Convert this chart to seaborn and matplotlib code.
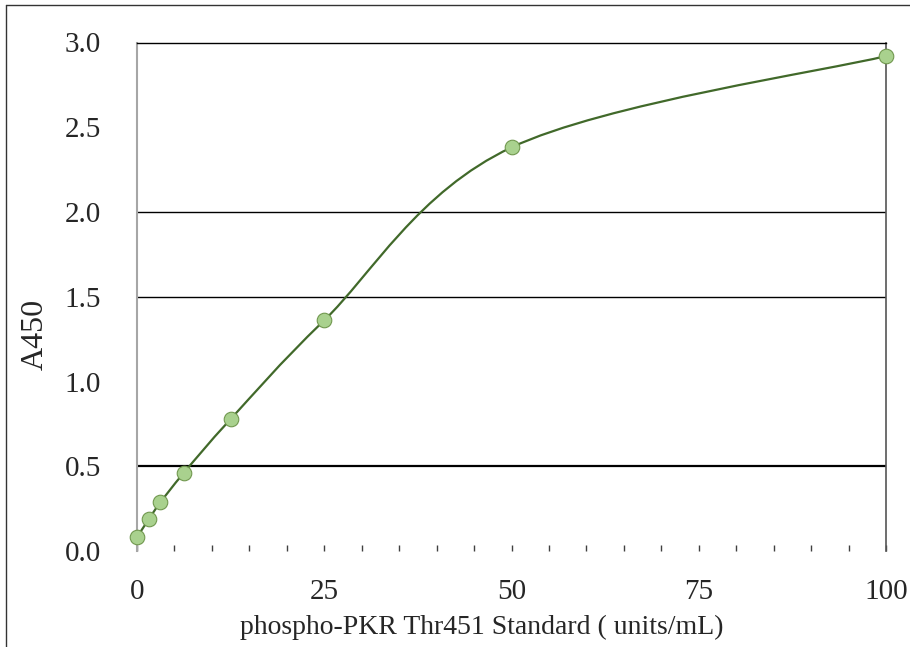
import matplotlib
matplotlib.use("Agg")
import matplotlib.pyplot as plt
import seaborn as sns
import numpy as np
import pandas as pd
from matplotlib.path import Path
from matplotlib.patches import PathPatch
from matplotlib.lines import Line2D
from matplotlib.ticker import MultipleLocator, FormatStrFormatter

# Standard curve data
conc = [0, 1.5625, 3.125, 6.25, 12.5, 25, 50, 100]
a450 = [0.081, 0.187, 0.287, 0.461, 0.778, 1.361, 2.381, 2.92]
x_ticks = [0, 25, 50, 75, 100]
y_ticks = [0.0, 0.5, 1.0, 1.5, 2.0, 2.5, 3.0]
grid_levels = [0.5, 1.5, 2.0]  # only these gridlines show in the original

df = pd.DataFrame({"conc": conc, "a450": a450})

sns.set_style("white")
plt.rcParams["font.family"] = ["Liberation Serif", "DejaVu Serif"]

fig = plt.figure(figsize=(9.1, 6.47), dpi=100)
ax = fig.add_axes([137 / 910, 1 - 551 / 647, (886 - 137) / 910, (551 - 42.5) / 647])

# gridlines
for g in grid_levels:
    ax.axhline(g, color="black", lw=1.6 if g == 0.5 else 1.0, zorder=1)

# smooth line like a spreadsheet "smoothed line" (Bezier through the points)
pts = df[["conc", "a450"]].to_numpy()
verts = [tuple(pts[0])]
codes = [Path.MOVETO]
n = len(pts)
for i in range(n - 1):
    p_prev = pts[i - 1] if i > 0 else pts[i]
    p_next2 = pts[i + 2] if i + 2 < n else pts[i + 1]
    c1 = pts[i] + (pts[i + 1] - p_prev) / 6
    c2 = pts[i + 1] - (p_next2 - pts[i]) / 6
    verts += [tuple(c1), tuple(c2), tuple(pts[i + 1])]
    codes += [Path.CURVE4] * 3
ax.add_patch(PathPatch(Path(verts, codes), fill=False, edgecolor="#41692a", lw=1.6, zorder=3))

sns.scatterplot(data=df, x="conc", y="a450", ax=ax, s=110, color="#a9d18e",
                edgecolor="#71984f", linewidth=0.8, zorder=4, clip_on=False)

ax.set_xlim(0, 100)
ax.set_ylim(0, 3)
ax.set_xticks(x_ticks)
ax.xaxis.set_minor_locator(MultipleLocator(5))
ax.set_yticks(y_ticks)
ax.yaxis.set_major_formatter(FormatStrFormatter("%.1f"))
ax.tick_params(axis="x", which="both", direction="in", length=4.5, width=1.0,
               color="#404040", labelsize=21, pad=20, bottom=True)
ax.tick_params(axis="y", length=0, labelsize=21, pad=26)

ax.set_xlabel("phospho-PKR Thr451 Standard ( units/mL)", fontsize=20)
ax.xaxis.set_label_coords(0.46, -0.125)
ax.set_ylabel("A450", fontsize=23)
ax.yaxis.set_label_coords(-0.116, 0.425)

ax.spines["bottom"].set_visible(False)
ax.spines["left"].set_color("#a6a6a6")
ax.spines["left"].set_linewidth(1.5)
ax.spines["right"].set_color("#555555")
ax.spines["right"].set_linewidth(1.2)
ax.spines["top"].set_color("black")
ax.spines["top"].set_linewidth(1.0)

# outer chart frame
fig.add_artist(Line2D([6 / 910, 6 / 910], [0, 1 - 5 / 647], transform=fig.transFigure, color="#333333", lw=1.0))
fig.add_artist(Line2D([6 / 910, 1], [1 - 5 / 647, 1 - 5 / 647], transform=fig.transFigure, color="#333333", lw=1.0))

fig.savefig("out.png", dpi=100)
